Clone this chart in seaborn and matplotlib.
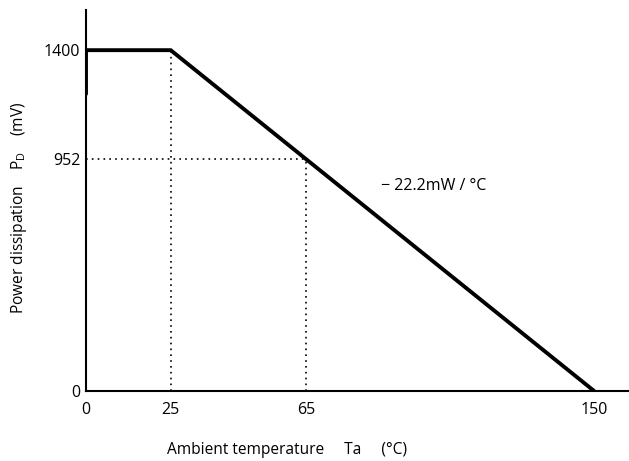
import matplotlib
matplotlib.use("Agg")
import matplotlib.pyplot as plt
import seaborn as sns
import pandas as pd

# Data
temp = [0, 0, 25, 150]
power = [1220, 1400, 1400, 0]
xticks = [0, 25, 65, 150]
yticks = [0, 952, 1400]
ref_temp_knee = 25
ref_temp = 65
ref_power = 952
slope_label = "\u2212 22.2mW / \u00b0C"

sns.set_theme(style="white")
plt.rcParams['font.family'] = ['Open Sans', 'DejaVu Sans']

fig = plt.figure(figsize=(6.29, 4.61), dpi=100)
ax = fig.add_axes([86/629, (461-391)/461, (628-86)/629, (391-10)/461])

df = pd.DataFrame({"Ta": temp, "PD": power})
sns.lineplot(data=df, x="Ta", y="PD", sort=False, estimator=None, color="black",
             lw=2.8, ax=ax, solid_joinstyle="miter")

dot = dict(color="black", lw=1.2, ls=(0, (1, 2.5)))
ax.plot([ref_temp_knee, ref_temp_knee], [0, yticks[2]], **dot)
ax.plot([ref_temp, ref_temp], [0, ref_power], **dot)
ax.plot([0, ref_temp], [ref_power, ref_power], **dot)

ax.set_xlim(0, 160)
ax.set_ylim(0, 1565)
ax.set_xticks(xticks)
ax.set_yticks(yticks)
ax.set_xticklabels([str(v) for v in xticks], fontsize=11.5)
ax.set_yticklabels([str(v) for v in yticks], fontsize=11.5)
ax.tick_params(axis="y", length=0, pad=4, colors="black")
ax.tick_params(axis="x", length=0, pad=8, colors="black")

for s in ["top", "right"]:
    ax.spines[s].set_visible(False)
for s in ["left", "bottom"]:
    ax.spines[s].set_color("black")
    ax.spines[s].set_linewidth(1.5)

ax.set_xlabel("Ambient temperature     Ta     (\u00b0C)", fontsize=11.2, color="black")
ax.xaxis.set_label_coords(0.37, -0.135)
ax.set_ylabel("Power dissipation    P$_\\mathregular{D}$    (mV)", fontsize=11.2, color="black")
ax.yaxis.set_label_coords(-0.105, 0.48)

ax.text(87, 841, slope_label, fontsize=11.5, ha="left", va="center", color="black")

fig.savefig("out.png", dpi=100, facecolor="white")
